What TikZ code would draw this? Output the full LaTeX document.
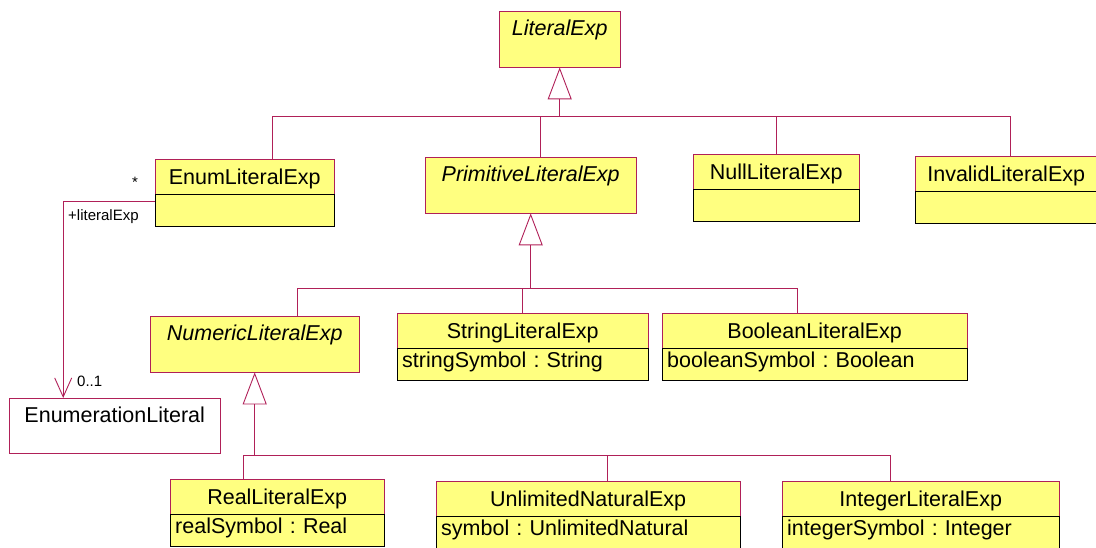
\documentclass[tikz,border=0pt]{standalone}
\usepackage{fontspec}
\setmainfont{Liberation Sans}
\usetikzlibrary{arrows.meta, positioning}
\frenchspacing

\definecolor{umlred}{RGB}{176,32,88}
\definecolor{umlyellow}{RGB}{255,255,128}

\tikzstyle{head} = [rectangle, draw=umlred, fill=umlyellow, anchor=north west, minimum height=35pt, inner sep=0pt, text height=15.5pt, text depth=0pt]
\tikzstyle{attr} = [rectangle, draw=black, fill=umlyellow, minimum height=32pt, inner xsep=5pt, inner ysep=0pt, align=left, text height=15.5pt, text depth=10pt]
\tikzstyle{abstract} = [rectangle, draw=umlred, fill=umlyellow, anchor=north west, inner sep=0pt]
\tikzstyle{plain} = [rectangle, draw=umlred, fill=white, anchor=north west, inner sep=0pt]
\tikzstyle{clsname} = [anchor=north, minimum height=34pt, inner sep=0pt, text height=15.5pt, text depth=0pt]
\tikzstyle{absname} = [clsname, font=\fontsize{21.5}{26}\selectfont\itshape]
\tikzstyle{small} = [inner sep=0pt, font=\fontsize{15}{18}\selectfont]
\tikzstyle{line} = [draw=umlred, line width=0.9pt]
\tikzstyle{gen} = [line, -{Triangle[open, length=32pt, width=24pt]}]
\tikzstyle{assoc} = [line, -{Straight Barb[length=19pt, width=17pt]}]

\begin{document}
\begin{tikzpicture}[x=1pt, y=-1pt, font=\fontsize{21.5}{26}\selectfont]
\useasboundingbox (0,0) rectangle (1096,548);

% abstract classes
\node (lit) [abstract, minimum width=121pt, minimum height=56pt] at (499,11) {};
\node (litN) [absname] at (lit.north) {LiteralExp};
\node (prim) [abstract, minimum width=211pt, minimum height=56pt] at (425,157) {};
\node (primN) [absname] at (prim.north) {PrimitiveLiteralExp};
\node (num) [abstract, minimum width=209pt, minimum height=56pt] at (150,316) {};
\node (numN) [absname] at (num.north) {NumericLiteralExp};

% concrete classes
\node (enum) [head, minimum width=179pt] at (155,159) {EnumLiteralExp};
\node (enumA) [attr, below=0pt of enum, text width=169pt] {};
\node (null) [head, minimum width=166pt] at (693,154) {NullLiteralExp};
\node (nullA) [attr, below=0pt of null, text width=156pt] {};
\node (inv) [head, minimum width=182pt] at (915,156) {InvalidLiteralExp};
\node (invA) [attr, below=0pt of inv, text width=172pt] {};
\node (str) [head, minimum width=251pt] at (397,313) {StringLiteralExp};
\node (strA) [attr, below=0pt of str, text width=241pt] {stringSymbol : String};
\node (bool) [head, minimum width=305pt] at (662,313) {BooleanLiteralExp};
\node (boolA) [attr, below=0pt of bool, text width=295pt] {booleanSymbol : Boolean};
\node (real) [head, minimum width=214pt] at (170,479) {RealLiteralExp};
\node (realA) [attr, below=0pt of real, text width=204pt] {realSymbol : Real};
\node (unl) [head, minimum width=304pt] at (436,481) {UnlimitedNaturalExp};
\node (unlA) [attr, below=0pt of unl, text width=294pt] {symbol : UnlimitedNatural};
\node (int) [head, minimum width=277pt] at (782,481) {IntegerLiteralExp};
\node (intA) [attr, below=0pt of int, text width=267pt] {integerSymbol : Integer};

% referenced class
\node (elit) [plain, minimum width=211pt, minimum height=55pt] at (9,398) {};
\node (elitN) [clsname] at (elit.north) {EnumerationLiteral};

% generalizations
\coordinate (bus1) at ([yshift=-49pt]lit.south);
\draw [gen] (bus1) -- (lit.south);
\draw [line] ([xshift=27.5pt]enum.north) |- (bus1);
\draw [line] ([xshift=9.5pt]prim.north) |- (bus1);
\draw [line] (null.north) |- (bus1);
\draw [line] ([xshift=4.5pt]inv.north) |- (bus1);

\coordinate (bus2) at ([yshift=-75pt]prim.south);
\draw [gen] (bus2) -- (prim.south);
\draw [line] ([xshift=42.5pt]num.north) |- (bus2);
\draw [line] (str.north) |- (bus2);
\draw [line] ([xshift=-17.5pt]bool.north) |- (bus2);

\coordinate (bus3) at ([yshift=-83pt]num.south);
\draw [gen] (bus3) -- (num.south);
\draw [line] ([xshift=-34pt]real.north) |- (bus3);
\draw [line] ([xshift=19pt]unl.north) |- (bus3);
\draw [line] ([xshift=-30.5pt]int.north) |- (bus3);

% association
\coordinate (ascS) at ([yshift=-7pt]enumA.north west);
\draw [assoc] (ascS) -| ([xshift=-51.5pt]elit.north);
\node (star) [small, anchor=base] at (135,188) {*};
\node (role) [small, anchor=base west] at (68,221) {+literalExp};
\node (mult) [small, anchor=base west] at (77,386) {0..1};

\end{tikzpicture}
\end{document}
